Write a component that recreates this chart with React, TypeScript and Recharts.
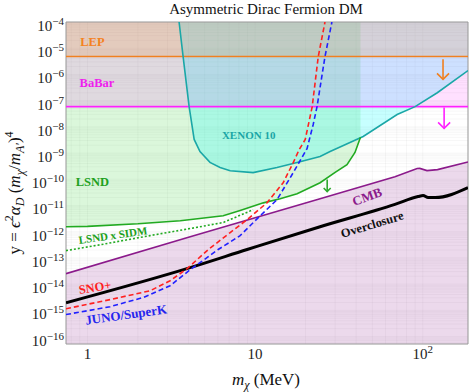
import {
  ComposedChart,
  Area,
  Line,
  Scatter,
  XAxis,
  YAxis,
  CartesianGrid,
  ReferenceLine,
  ReferenceArea,
} from 'recharts';

// Axis ranges (log-log)
const X_MIN = 0.745;
const X_MAX = 186;
const Y_MIN = 5.2e-17;
const Y_MAX = 1e-4;

// Collider limits (flat in m_chi)
const LEP_LIMIT = 4.8e-6;
const BABAR_LIMIT = 5.9e-8;

// XENON 10
const xenonMass = [3.52, 3.72, 4.04, 4.33, 4.69, 5.38, 6.18, 7.1, 9.73, 13.5, 17.8, 24.4, 28.0, 44.1, 70.3, 90, 122, 186];
const xenonY = [1e-4, 4.8e-6, 5.9e-8, 3.3e-9, 1.15e-9, 4.4e-10, 2.8e-10, 2.1e-10, 1.8e-10, 2.8e-10, 4.4e-10, 7.4e-10, 1.15e-9, 4.3e-9, 2.95e-8, 5.9e-8, 2.0e-7, 1.4e-6];

// LSND
const lsndMass = [0.745, 1, 2, 3.58, 6.45, 8.14, 11.2, 14.1, 17.8, 24.4, 30, 35.3, 39.4, 42.5];
const lsndY = [1.55e-12, 1.6e-12, 2.0e-12, 2.63e-12, 4.07e-12, 6.46e-12, 1.26e-11, 1.82e-11, 2.82e-11, 7.4e-11, 1.82e-10, 3.63e-10, 1.05e-9, 4.0e-9];

// LSND x SIDM
const sidmMass = [0.745, 1.2, 2.36, 4.1, 6.45, 9.73];
const sidmY = [1.9e-13, 3.2e-13, 7.1e-13, 1.32e-12, 2.24e-12, 6.9e-12];

// CMB
const cmbMass = [0.745, 4.1, 24.4, 68.2, 92.5, 96, 105.9, 122.4, 186];
const cmbY = [2.5e-14, 6.46e-13, 1.82e-11, 1.26e-10, 2.57e-10, 2.6e-10, 2.14e-10, 2.34e-10, 4.6e-10];

// Overclosure
const overMass = [0.745, 4.1, 8.96, 24.4, 68.2, 93.7, 100.4, 107.6, 118.4, 186];
const overY = [1.95e-15, 4.27e-14, 2.09e-13, 1.55e-12, 1.1e-11, 2.19e-11, 2.4e-11, 2.0e-11, 2.0e-11, 4.8e-11];

// SNO+
const snoMass = [0.745, 1.365, 2.37, 3.11, 3.93, 5.26, 7.1, 8.96, 11.8, 14.7, 16.9, 18.3, 19.9, 21.9, 23.8, 26.1];
const snoY = [1.15e-15, 2.57e-15, 5.62e-15, 1.35e-14, 3.89e-14, 2.09e-13, 9.3e-13, 2.88e-12, 1.29e-11, 7.4e-11, 4.4e-10, 1.35e-9, 3.3e-9, 5.9e-8, 4.8e-6, 1e-4];

// JUNO / SuperK
const junoMass = [0.745, 1.365, 2.15, 3.11, 4.1, 6.02, 8.14, 10.3, 13.5, 16.9, 20.4, 22.2, 23.4, 26.1, 28.7];
const junoY = [6.9e-16, 1.38e-15, 3.09e-15, 8.7e-15, 3.55e-14, 2.09e-13, 7.08e-13, 3.16e-12, 1.66e-11, 1.82e-10, 1.48e-9, 1.23e-8, 5.9e-8, 4.8e-6, 1e-4];

// Text labels
const labelText = ['LEP', 'BaBar', 'XENON 10', 'LSND', 'LSND x SIDM', 'SNO+', 'JUNO/SuperK', 'CMB', 'Overclosure'];
const labelMass = [1.07, 1.14, 9.15, 1.07, 1.42, 1.11, 1.7, 46.5, 49.9];
const labelY = [1.8e-5, 4.9e-7, 5.1e-9, 8.1e-11, 7.4e-13, 7.4e-15, 6.9e-16, 2.2e-11, 1.86e-12];

// Exclusion arrows (tip position)
const arrowName = ['LEP', 'BaBar', 'LSND'];
const arrowMass = [132, 134, 26.9];
const arrowTip = [6.5e-7, 8.7e-9, 3.4e-11];

// Ticks
const xDecades = [1, 10, 100];
const yDecades = [1e-16, 1e-15, 1e-14, 1e-13, 1e-12, 1e-11, 1e-10, 1e-9, 1e-8, 1e-7, 1e-6, 1e-5, 1e-4];
const minorSteps = [2, 3, 4, 5, 6, 7, 8, 9];

const FONT = '"Liberation Serif", "Times New Roman", serif';

const labelStyle: Record<string, { color: string; size: number; angle: number }> = {
  LEP: { color: '#f4821f', size: 12.5, angle: 0 },
  BaBar: { color: '#ee1fee', size: 12.5, angle: 0 },
  'XENON 10': { color: '#1aa6a6', size: 11, angle: 0 },
  LSND: { color: '#20a020', size: 12.5, angle: 0 },
  'LSND x SIDM': { color: '#20a020', size: 11, angle: -8 },
  'SNO+': { color: '#ff2020', size: 12.5, angle: -9 },
  'JUNO/SuperK': { color: '#2525ee', size: 13, angle: -8 },
  CMB: { color: '#8b1a8b', size: 13, angle: -20 },
  Overclosure: { color: '#111111', size: 12.5, angle: -17 },
};

const arrowStyle: Record<string, { color: string; len: number; head: number }> = {
  LEP: { color: '#f08020', len: 20, head: 6 },
  BaBar: { color: '#ff20ff', len: 21, head: 6 },
  LSND: { color: '#30a830', len: 12, head: 3.5 },
};

const rows = (ms: number[], ys: number[]) => ms.map((m, i) => ({ m, y: ys[i] }));
const above = (ms: number[], ys: number[]) => ms.map((m, i) => ({ m, band: [ys[i], Y_MAX] }));
const below = (ms: number[], ys: number[]) => ms.map((m, i) => ({ m, band: [Y_MIN, ys[i]] }));

const xTicks = [0.8, 0.9, ...xDecades, ...minorSteps, ...minorSteps.map((k) => k * 10)].sort((a, b) => a - b);
const yTicks = [
  ...yDecades,
  ...yDecades.flatMap((d) => minorSteps.map((k) => (k * d) / 10)).filter((v) => v > Y_MIN),
].sort((a, b) => a - b);

const labelRows = labelText.map((t, i) => ({ m: labelMass[i], y: labelY[i], text: t }));
const arrowRows = arrowName.map((n, i) => ({ m: arrowMass[i], y: arrowTip[i], name: n }));
const lepBand = [{ m: X_MIN, band: [LEP_LIMIT, Y_MAX] }, { m: X_MAX, band: [LEP_LIMIT, Y_MAX] }];
const babarBand = [{ m: X_MIN, band: [BABAR_LIMIT, Y_MAX] }, { m: X_MAX, band: [BABAR_LIMIT, Y_MAX] }];

const isDecade = (v: number) => Math.abs(Math.log10(v) - Math.round(Math.log10(v))) < 1e-6;

const YTick = (props: any) => {
  const { x, y, payload } = props;
  if (!isDecade(payload.value)) return <g />;
  const e = Math.round(Math.log10(payload.value));
  return (
    <text x={x} y={y + 9} textAnchor="end" fontFamily={FONT} fontSize={15} fill="#222">
      10
      <tspan dy={-6} fontSize={11}>{`\u2212${-e}`}</tspan>
    </text>
  );
};

const XTick = (props: any) => {
  const { x, y, payload } = props;
  if (!isDecade(payload.value)) return <g />;
  const e = Math.round(Math.log10(payload.value));
  return (
    <text x={x} y={y + 13} textAnchor="middle" fontFamily={FONT} fontSize={15} fill="#222">
      {e === 0 ? '1' : '10'}
      {e > 1 && <tspan dy={-6} fontSize={11}>{e}</tspan>}
    </text>
  );
};

const LabelShape = (props: any) => {
  const { cx, cy, payload } = props;
  const s = labelStyle[payload.text];
  return (
    <text
      x={cx}
      y={cy}
      textAnchor="middle"
      dominantBaseline="central"
      fontFamily={FONT}
      fontWeight="bold"
      fontSize={s.size}
      fill={s.color}
      transform={`rotate(${s.angle} ${cx} ${cy})`}
    >
      {payload.text}
    </text>
  );
};

const ArrowShape = (props: any) => {
  const { cx, cy, payload } = props;
  const s = arrowStyle[payload.name];
  return (
    <g stroke={s.color} strokeWidth={1.6} fill="none">
      <line x1={cx} y1={cy - s.len} x2={cx} y2={cy} />
      <polyline points={`${cx - s.head},${cy - s.head} ${cx},${cy} ${cx + s.head},${cy - s.head}`} />
    </g>
  );
};

export default function App() {
  return (
    <div style={{ position: 'absolute', left: 0, top: 0, width: 469, height: 392, background: '#fff' }}>
      <ComposedChart width={469} height={392} margin={{ top: 22, right: 1, bottom: 0, left: 0 }}>
        <CartesianGrid stroke="#000" strokeOpacity={0.035} />
        <XAxis
          type="number"
          dataKey="m"
          scale="log"
          domain={[X_MIN, X_MAX]}
          allowDataOverflow
          ticks={xTicks}
          interval={0}
          tick={<XTick />}
          tickSize={0}
          tickMargin={2}
          axisLine={false}
          height={48}
        />
        <YAxis
          type="number"
          scale="log"
          domain={[Y_MIN, Y_MAX]}
          allowDataOverflow
          ticks={yTicks}
          interval={0}
          tick={<YTick />}
          tickSize={0}
          tickMargin={2}
          axisLine={false}
          width={66}
        />

        <Area data={below(cmbMass, cmbY)} dataKey="band" type="linear" stroke="none" fill="#800080" fillOpacity={0.15} dot={false} activeDot={false} isAnimationActive={false} />
        <Area data={above(lsndMass, lsndY)} dataKey="band" type="linear" stroke="none" fill="#22cc22" fillOpacity={0.16} dot={false} activeDot={false} isAnimationActive={false} />
        <Area data={above(xenonMass, xenonY)} dataKey="band" type="linear" stroke="none" fill="#00ffff" fillOpacity={0.22} dot={false} activeDot={false} isAnimationActive={false} />
        <Area data={babarBand} dataKey="band" type="linear" stroke="none" fill="#ff00ff" fillOpacity={0.12} dot={false} activeDot={false} isAnimationActive={false} />
        <Area data={lepBand} dataKey="band" type="linear" stroke="none" fill="#ff8000" fillOpacity={0.15} dot={false} activeDot={false} isAnimationActive={false} />

        <ReferenceLine y={LEP_LIMIT} stroke="#f08020" strokeWidth={1.6} />
        <ReferenceLine y={BABAR_LIMIT} stroke="#ff20ff" strokeWidth={1.6} />

        <Line data={rows(xenonMass, xenonY)} dataKey="y" type="linear" stroke="#1aa7a7" strokeWidth={1.6} dot={false} activeDot={false} isAnimationActive={false} />
        <Line data={rows(lsndMass, lsndY)} dataKey="y" type="linear" stroke="#22aa22" strokeWidth={1.6} dot={false} activeDot={false} isAnimationActive={false} />
        <Line data={rows(sidmMass, sidmY)} dataKey="y" type="linear" stroke="#22aa22" strokeWidth={1.6} strokeDasharray="2 2" dot={false} activeDot={false} isAnimationActive={false} />
        <Line data={rows(cmbMass, cmbY)} dataKey="y" type="linear" stroke="#8b1a8b" strokeWidth={1.6} dot={false} activeDot={false} isAnimationActive={false} />
        <Line data={rows(overMass, overY)} dataKey="y" type="monotone" stroke="#000" strokeWidth={3} dot={false} activeDot={false} isAnimationActive={false} />
        <Line data={rows(snoMass, snoY)} dataKey="y" type="linear" stroke="#ff2020" strokeWidth={1.6} strokeDasharray="5 3" dot={false} activeDot={false} isAnimationActive={false} />
        <Line data={rows(junoMass, junoY)} dataKey="y" type="linear" stroke="#2020ff" strokeWidth={1.6} strokeDasharray="5 3" dot={false} activeDot={false} isAnimationActive={false} />

        <Scatter data={arrowRows} dataKey="y" shape={<ArrowShape />} isAnimationActive={false} />
        <Scatter data={labelRows} dataKey="y" shape={<LabelShape />} isAnimationActive={false} />

        <ReferenceArea x1={X_MIN} x2={X_MAX} y1={Y_MIN} y2={Y_MAX} fill="none" fillOpacity={0} stroke="#9a9a9a" strokeWidth={1} />
      </ComposedChart>

      <svg width={469} height={392} style={{ position: 'absolute', left: 0, top: 0, pointerEvents: 'none' }}>
        <text x={266} y={14} textAnchor="middle" fontFamily={FONT} fontSize={15} fill="#111">
          Asymmetric Dirac Fermion DM
        </text>
        <text x={266} y={385} textAnchor="middle" fontFamily={FONT} fontSize={17} fill="#111">
          <tspan fontStyle="italic">m</tspan>
          <tspan dy={4} fontSize={12} fontStyle="italic">χ</tspan>
          <tspan dy={-4}>{' (MeV)'}</tspan>
        </text>
        <text transform="translate(20,193) rotate(-90)" textAnchor="middle" fontFamily={FONT} fontSize={17} fill="#111">
          <tspan>{'y = '}</tspan>
          <tspan fontStyle="italic">ϵ</tspan>
          <tspan dy={-7} fontSize={12}>2</tspan>
          <tspan dy={7} fontStyle="italic">α</tspan>
          <tspan dy={4} fontSize={12} fontStyle="italic">D</tspan>
          <tspan dy={-4}>{' ('}</tspan>
          <tspan fontStyle="italic">m</tspan>
          <tspan dy={4} fontSize={12} fontStyle="italic">χ</tspan>
          <tspan dy={-4}>/</tspan>
          <tspan fontStyle="italic">m</tspan>
          <tspan dy={4} fontSize={12} fontStyle="italic">A′</tspan>
          <tspan dy={-4}>)</tspan>
          <tspan dy={-7} fontSize={12}>4</tspan>
        </text>
      </svg>
    </div>
  );
}
